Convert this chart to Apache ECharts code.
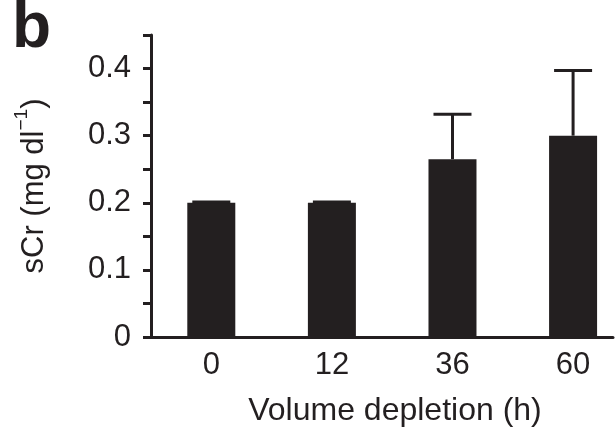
<!DOCTYPE html>
<html>
<head>
<meta charset="utf-8">
<script src="https://cdn.jsdelivr.net/npm/echarts@6/dist/echarts.min.js"></script>
<style>
html,body{margin:0;padding:0;background:#fff;}
#main{width:616px;height:432px;}
</style>
</head>
<body>
<div id="main"></div>
<script>
const categories = ['0', '12', '36', '60'];
const means = [0.2, 0.2, 0.265, 0.3];
const upperErr = [0.201, 0.201, 0.332, 0.397];
const yTickLabels = ['0', '0.1', '0.2', '0.3', '0.4'];

const INK = '#231f20';
const FONT = '"Liberation Sans", Arial, Helvetica, sans-serif';

const chart = echarts.init(document.getElementById('main'), null, {renderer: 'canvas'});

const barData = means.map((v, i) => [i, v]);
const errData = means.map((v, i) => [i, v, upperErr[i]]);

const option = {
  animation: false,
  backgroundColor: '#fff',
  title: {
    text: 'b',
    left: 7,
    top: -8,
    textStyle: {fontSize: 64, fontWeight: 'bold', color: INK, fontFamily: FONT}
  },
  grid: {left: 151, right: 3, top: 35, bottom: 93, containLabel: false},
  xAxis: {
    type: 'value',
    min: -0.5,
    max: 3.331,
    name: 'Volume depletion (h)',
    nameLocation: 'middle',
    nameGap: 58,
    nameTextStyle: {fontSize: 32, color: INK, fontFamily: FONT, padding: [0, 0, 0, 26]},
    axisLine: {show: true, onZero: false, lineStyle: {color: INK, width: 3}},
    axisTick: {show: false},
    splitLine: {show: false},
    axisLabel: {
      customValues: [0, 1, 2, 3],
      formatter: v => categories[Math.round(v)] ?? '',
      fontSize: 31, color: INK, fontFamily: FONT, margin: 13
    }
  },
  yAxis: {
    type: 'value',
    min: 0,
    max: 0.45,
    interval: 0.05,
    name: '{n|sCr (mg dl}{s|−1}{n|)}',
    nameLocation: 'middle',
    nameGap: 101,
    nameRotate: 90,
    nameTextStyle: {
      color: INK, fontFamily: FONT,
      rich: {
        n: {fontSize: 31, color: INK, fontFamily: FONT, lineHeight: 38, verticalAlign: 'bottom'},
        s: {fontSize: 19, color: INK, fontFamily: FONT, lineHeight: 38, verticalAlign: 'top'}
      }
    },
    axisLine: {show: true, onZero: false, lineStyle: {color: INK, width: 3}},
    axisTick: {show: true, length: 8, lineStyle: {color: INK, width: 3}},
    splitLine: {show: false},
    axisLabel: {
      fontSize: 31, color: INK, fontFamily: FONT, margin: 20,
      formatter: v => {
        const k = Math.round(v * 100);
        return k % 10 === 0 ? yTickLabels[k / 10] : '';
      }
    }
  },
  series: [
    {
      type: 'bar',
      data: barData,
      barWidth: 48,
      itemStyle: {color: INK},
      z: 2
    },
    {
      type: 'custom',
      data: errData,
      z: 3,
      renderItem: (params, api) => {
        const x = api.value(0);
        const top = api.coord([x, api.value(2)]);
        const base = api.coord([x, api.value(1)]);
        const half = 19;
        return {
          type: 'group',
          children: [
            {type: 'line', shape: {x1: top[0], y1: base[1], x2: top[0], y2: top[1]}, style: {stroke: INK, lineWidth: 3}},
            {type: 'line', shape: {x1: top[0] - half, y1: top[1], x2: top[0] + half, y2: top[1]}, style: {stroke: INK, lineWidth: 3}}
          ]
        };
      }
    }
  ]
};
chart.setOption(option);
</script>
</body>
</html>
